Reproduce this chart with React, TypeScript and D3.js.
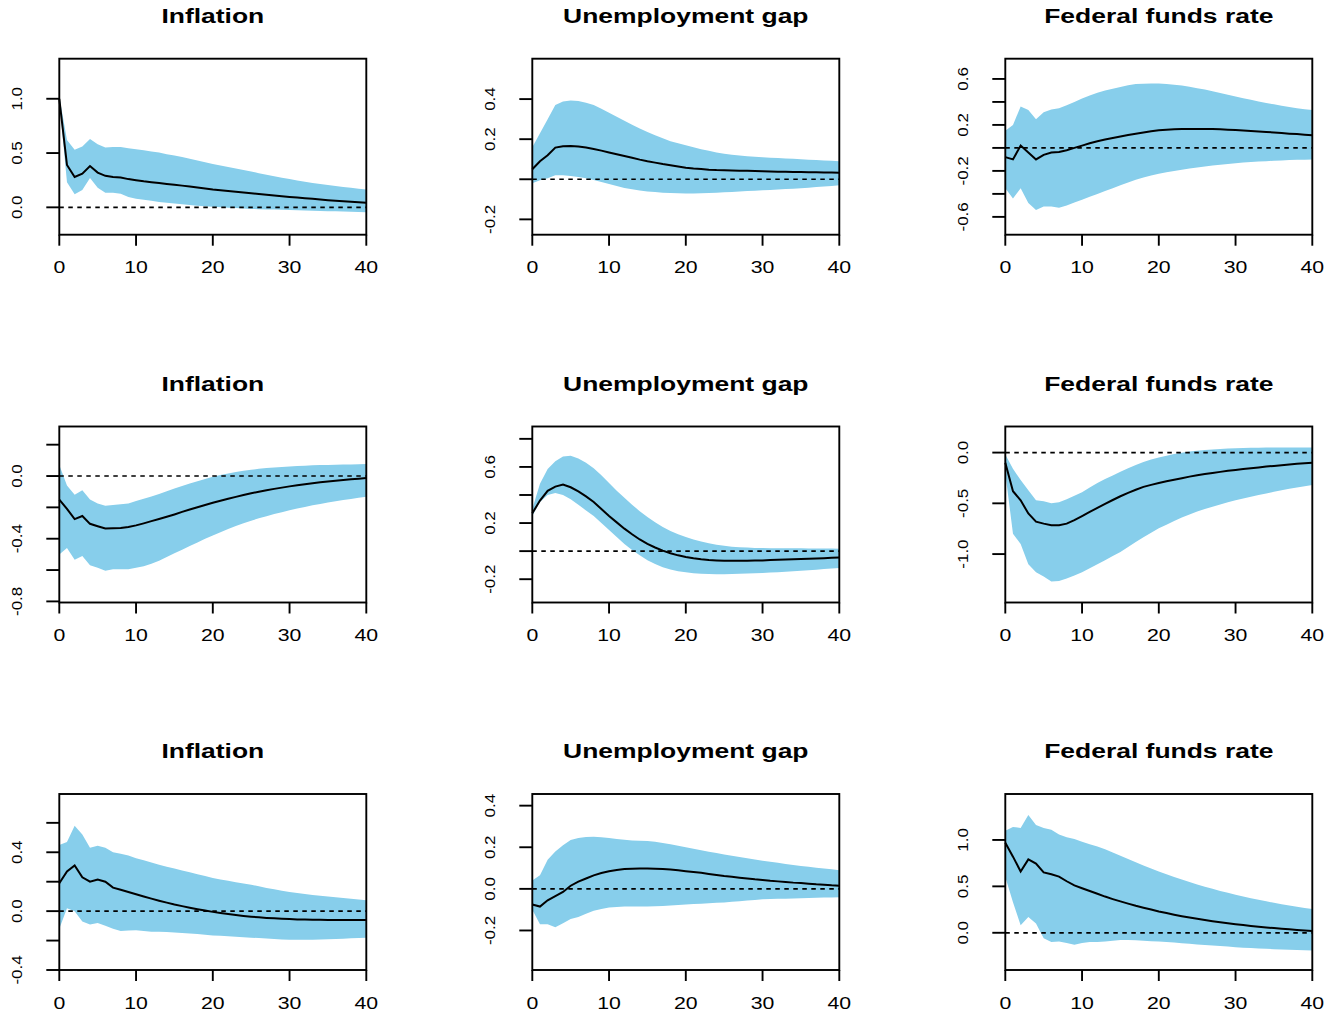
import React from 'react';
import * as d3 from 'd3';

const horizon = d3.range(0, 41);
const titles = ['Inflation', 'Unemployment gap', 'Federal funds rate'];
const xTicks = [0, 10, 20, 30, 40];

// shock 1
const inflMed1 = [1.00, 0.39, 0.28, 0.31, 0.38, 0.32, 0.29, 0.28, 0.275, 0.26, 0.25, 0.24, 0.232, 0.224, 0.216, 0.208, 0.200, 0.191, 0.182, 0.174, 0.165, 0.158, 0.151, 0.144, 0.137, 0.130, 0.123, 0.116, 0.109, 0.102, 0.096, 0.090, 0.084, 0.078, 0.072, 0.066, 0.061, 0.056, 0.051, 0.046, 0.042];
const inflUp1 = [1.02, 0.62, 0.53, 0.56, 0.63, 0.58, 0.55, 0.555, 0.555, 0.545, 0.535, 0.525, 0.515, 0.505, 0.49, 0.477, 0.463, 0.448, 0.432, 0.416, 0.40, 0.386, 0.372, 0.358, 0.344, 0.33, 0.315, 0.30, 0.286, 0.272, 0.26, 0.248, 0.236, 0.225, 0.215, 0.205, 0.196, 0.188, 0.18, 0.172, 0.165];
const inflLo1 = [0.98, 0.23, 0.12, 0.16, 0.27, 0.18, 0.135, 0.135, 0.125, 0.095, 0.08, 0.07, 0.06, 0.05, 0.042, 0.035, 0.028, 0.021, 0.015, 0.01, 0.005, 0.001, -0.003, -0.007, -0.011, -0.015, -0.017, -0.019, -0.021, -0.023, -0.025, -0.027, -0.029, -0.031, -0.033, -0.035, -0.037, -0.039, -0.041, -0.043, -0.045];

const unMed1 = [0.05, 0.09, 0.12, 0.158, 0.165, 0.166, 0.163, 0.158, 0.151, 0.143, 0.134, 0.125, 0.116, 0.107, 0.098, 0.090, 0.083, 0.076, 0.070, 0.064, 0.058, 0.054, 0.051, 0.048, 0.046, 0.045, 0.044, 0.043, 0.042, 0.041, 0.040, 0.039, 0.038, 0.037, 0.036, 0.036, 0.035, 0.035, 0.034, 0.034, 0.033];
const unUp1 = [0.16, 0.23, 0.30, 0.37, 0.388, 0.393, 0.39, 0.382, 0.37, 0.352, 0.332, 0.312, 0.292, 0.272, 0.253, 0.236, 0.22, 0.205, 0.19, 0.18, 0.17, 0.16, 0.15, 0.142, 0.134, 0.127, 0.122, 0.118, 0.115, 0.112, 0.11, 0.108, 0.106, 0.104, 0.102, 0.10, 0.098, 0.096, 0.094, 0.092, 0.09];
const unLo1 = [-0.02, -0.005, 0.005, 0.02, 0.02, 0.016, 0.011, 0.005, -0.003, -0.013, -0.024, -0.034, -0.043, -0.05, -0.056, -0.061, -0.064, -0.067, -0.069, -0.07, -0.071, -0.071, -0.07, -0.069, -0.067, -0.065, -0.063, -0.061, -0.059, -0.057, -0.055, -0.053, -0.051, -0.049, -0.047, -0.045, -0.042, -0.039, -0.036, -0.033, -0.03];

const ffrMed1 = [-0.08, -0.10, 0.02, -0.04, -0.10, -0.06, -0.04, -0.035, -0.02, 0.00, 0.02, 0.04, 0.058, 0.073, 0.087, 0.10, 0.112, 0.124, 0.134, 0.145, 0.153, 0.158, 0.162, 0.164, 0.165, 0.165, 0.165, 0.164, 0.162, 0.159, 0.156, 0.152, 0.148, 0.143, 0.139, 0.134, 0.129, 0.124, 0.12, 0.115, 0.11];
const ffrUp1 = [0.15, 0.20, 0.36, 0.33, 0.25, 0.31, 0.335, 0.345, 0.37, 0.40, 0.43, 0.455, 0.48, 0.50, 0.515, 0.53, 0.545, 0.555, 0.558, 0.56, 0.56, 0.557, 0.55, 0.542, 0.532, 0.52, 0.507, 0.492, 0.477, 0.462, 0.447, 0.432, 0.418, 0.404, 0.391, 0.379, 0.367, 0.356, 0.346, 0.337, 0.33];
const ffrLo1 = [-0.35, -0.44, -0.35, -0.48, -0.54, -0.51, -0.51, -0.52, -0.50, -0.475, -0.45, -0.425, -0.40, -0.375, -0.35, -0.325, -0.30, -0.278, -0.258, -0.24, -0.225, -0.212, -0.20, -0.19, -0.18, -0.171, -0.162, -0.154, -0.147, -0.14, -0.133, -0.128, -0.123, -0.119, -0.115, -0.112, -0.109, -0.106, -0.104, -0.102, -0.10];

// shock 2
const inflMed2 = [-0.15, -0.21, -0.275, -0.255, -0.305, -0.32, -0.335, -0.333, -0.332, -0.325, -0.315, -0.302, -0.288, -0.274, -0.26, -0.245, -0.229, -0.214, -0.199, -0.185, -0.171, -0.158, -0.145, -0.133, -0.121, -0.11, -0.1, -0.091, -0.082, -0.074, -0.066, -0.059, -0.052, -0.046, -0.04, -0.035, -0.03, -0.025, -0.021, -0.017, -0.013];
const inflUp2 = [0.07, -0.06, -0.12, -0.09, -0.15, -0.175, -0.19, -0.185, -0.18, -0.175, -0.16, -0.145, -0.13, -0.114, -0.097, -0.08, -0.064, -0.048, -0.033, -0.019, -0.005, 0.006, 0.016, 0.025, 0.033, 0.04, 0.046, 0.051, 0.055, 0.058, 0.061, 0.064, 0.066, 0.068, 0.07, 0.071, 0.072, 0.073, 0.074, 0.075, 0.076];
const inflLo2 = [-0.50, -0.46, -0.535, -0.51, -0.57, -0.585, -0.605, -0.595, -0.595, -0.595, -0.585, -0.575, -0.56, -0.54, -0.517, -0.492, -0.47, -0.447, -0.424, -0.401, -0.379, -0.358, -0.338, -0.319, -0.301, -0.285, -0.27, -0.256, -0.243, -0.231, -0.218, -0.207, -0.197, -0.187, -0.178, -0.169, -0.161, -0.153, -0.146, -0.139, -0.133];

const unMed2 = [0.27, 0.36, 0.43, 0.46, 0.475, 0.455, 0.425, 0.39, 0.35, 0.30, 0.25, 0.205, 0.16, 0.12, 0.083, 0.052, 0.026, 0.004, -0.015, -0.03, -0.042, -0.051, -0.058, -0.063, -0.066, -0.068, -0.069, -0.069, -0.068, -0.067, -0.066, -0.064, -0.062, -0.06, -0.058, -0.056, -0.054, -0.052, -0.05, -0.047, -0.045];
const unUp2 = [0.30, 0.48, 0.585, 0.64, 0.675, 0.68, 0.66, 0.63, 0.59, 0.54, 0.485, 0.43, 0.38, 0.33, 0.285, 0.243, 0.205, 0.172, 0.143, 0.12, 0.10, 0.083, 0.068, 0.056, 0.046, 0.038, 0.032, 0.028, 0.025, 0.023, 0.022, 0.021, 0.021, 0.02, 0.02, 0.02, 0.019, 0.019, 0.018, 0.018, 0.017];
const unLo2 = [0.25, 0.35, 0.40, 0.415, 0.40, 0.37, 0.33, 0.29, 0.25, 0.20, 0.15, 0.10, 0.05, 0.008, -0.03, -0.065, -0.092, -0.114, -0.131, -0.143, -0.151, -0.157, -0.161, -0.163, -0.164, -0.164, -0.163, -0.162, -0.16, -0.158, -0.156, -0.153, -0.15, -0.147, -0.144, -0.14, -0.136, -0.132, -0.128, -0.124, -0.12];

const ffrMed2 = [-0.10, -0.38, -0.47, -0.60, -0.68, -0.70, -0.715, -0.715, -0.70, -0.665, -0.625, -0.585, -0.545, -0.505, -0.467, -0.43, -0.397, -0.366, -0.338, -0.318, -0.30, -0.283, -0.267, -0.252, -0.237, -0.223, -0.212, -0.201, -0.19, -0.18, -0.171, -0.162, -0.154, -0.146, -0.138, -0.131, -0.124, -0.117, -0.111, -0.105, -0.10];
const ffrUp2 = [-0.02, -0.16, -0.27, -0.37, -0.47, -0.48, -0.50, -0.49, -0.46, -0.425, -0.39, -0.345, -0.30, -0.26, -0.225, -0.19, -0.155, -0.122, -0.092, -0.068, -0.048, -0.03, -0.015, -0.002, 0.01, 0.018, 0.025, 0.031, 0.036, 0.04, 0.043, 0.045, 0.047, 0.048, 0.049, 0.05, 0.05, 0.05, 0.05, 0.05, 0.05];
const ffrLo2 = [-0.20, -0.80, -0.90, -1.10, -1.18, -1.22, -1.27, -1.265, -1.24, -1.21, -1.18, -1.14, -1.10, -1.06, -1.02, -0.98, -0.93, -0.88, -0.835, -0.79, -0.745, -0.71, -0.675, -0.64, -0.61, -0.58, -0.556, -0.533, -0.511, -0.49, -0.47, -0.452, -0.434, -0.418, -0.402, -0.387, -0.372, -0.357, -0.344, -0.331, -0.32];

// shock 3
const inflMed3 = [0.19, 0.27, 0.31, 0.23, 0.20, 0.215, 0.20, 0.16, 0.145, 0.13, 0.115, 0.10, 0.085, 0.071, 0.058, 0.045, 0.034, 0.023, 0.013, 0.004, -0.005, -0.013, -0.02, -0.027, -0.033, -0.038, -0.042, -0.046, -0.049, -0.052, -0.054, -0.056, -0.057, -0.058, -0.059, -0.06, -0.06, -0.06, -0.06, -0.06, -0.06];
const inflUp3 = [0.45, 0.47, 0.58, 0.52, 0.43, 0.445, 0.43, 0.40, 0.39, 0.378, 0.36, 0.345, 0.33, 0.316, 0.302, 0.29, 0.277, 0.264, 0.251, 0.238, 0.225, 0.215, 0.206, 0.197, 0.188, 0.18, 0.169, 0.158, 0.148, 0.139, 0.13, 0.123, 0.116, 0.11, 0.104, 0.099, 0.094, 0.089, 0.084, 0.079, 0.074];
const inflLo3 = [-0.12, 0.02, 0.00, -0.07, -0.09, -0.08, -0.10, -0.12, -0.135, -0.132, -0.13, -0.135, -0.14, -0.14, -0.142, -0.145, -0.148, -0.152, -0.156, -0.16, -0.165, -0.168, -0.171, -0.174, -0.177, -0.18, -0.183, -0.186, -0.189, -0.192, -0.195, -0.195, -0.195, -0.194, -0.193, -0.191, -0.189, -0.187, -0.185, -0.183, -0.18];

const unMed3 = [-0.075, -0.085, -0.055, -0.035, -0.015, 0.015, 0.035, 0.05, 0.065, 0.076, 0.085, 0.091, 0.095, 0.097, 0.098, 0.098, 0.097, 0.095, 0.093, 0.089, 0.085, 0.081, 0.077, 0.072, 0.067, 0.062, 0.058, 0.054, 0.05, 0.046, 0.043, 0.039, 0.036, 0.033, 0.03, 0.028, 0.025, 0.022, 0.02, 0.017, 0.015];
const unUp3 = [0.04, 0.065, 0.14, 0.18, 0.21, 0.235, 0.245, 0.249, 0.25, 0.248, 0.245, 0.24, 0.236, 0.233, 0.231, 0.23, 0.226, 0.22, 0.214, 0.207, 0.20, 0.193, 0.186, 0.179, 0.172, 0.165, 0.159, 0.153, 0.147, 0.141, 0.135, 0.13, 0.125, 0.12, 0.115, 0.11, 0.106, 0.102, 0.098, 0.094, 0.09];
const unLo3 = [-0.10, -0.17, -0.17, -0.185, -0.165, -0.145, -0.135, -0.12, -0.105, -0.097, -0.09, -0.087, -0.085, -0.085, -0.085, -0.085, -0.083, -0.082, -0.08, -0.078, -0.075, -0.073, -0.071, -0.069, -0.067, -0.065, -0.062, -0.059, -0.056, -0.053, -0.05, -0.049, -0.048, -0.047, -0.046, -0.045, -0.044, -0.043, -0.042, -0.041, -0.04];

const ffrMed3 = [0.97, 0.82, 0.66, 0.79, 0.745, 0.65, 0.63, 0.605, 0.555, 0.51, 0.48, 0.45, 0.42, 0.39, 0.363, 0.338, 0.314, 0.291, 0.27, 0.25, 0.23, 0.212, 0.195, 0.179, 0.164, 0.15, 0.137, 0.125, 0.113, 0.102, 0.092, 0.083, 0.074, 0.066, 0.058, 0.051, 0.044, 0.037, 0.031, 0.025, 0.018];
const ffrUp3 = [1.10, 1.14, 1.13, 1.27, 1.16, 1.13, 1.11, 1.06, 1.03, 1.01, 0.98, 0.955, 0.93, 0.9, 0.865, 0.83, 0.795, 0.76, 0.725, 0.692, 0.66, 0.631, 0.602, 0.574, 0.547, 0.52, 0.496, 0.473, 0.451, 0.43, 0.41, 0.391, 0.373, 0.356, 0.339, 0.323, 0.308, 0.294, 0.28, 0.268, 0.256];
const ffrLo3 = [0.60, 0.33, 0.08, 0.17, 0.10, -0.06, -0.10, -0.095, -0.11, -0.13, -0.11, -0.10, -0.10, -0.095, -0.085, -0.078, -0.078, -0.08, -0.085, -0.09, -0.095, -0.1, -0.106, -0.112, -0.118, -0.125, -0.131, -0.137, -0.143, -0.149, -0.155, -0.16, -0.165, -0.169, -0.173, -0.177, -0.18, -0.183, -0.186, -0.189, -0.192];

// y axis setup per panel (row by row)
const panels = [
  { med: inflMed1, up: inflUp1, lo: inflLo1, yDomain: [-0.252, 1.369], yTicks: [0, 0.5, 1], yLabels: [0, 0.5, 1] },
  { med: unMed1, up: unUp1, lo: unLo1, yDomain: [-0.2765, 0.6015], yTicks: [-0.2, 0, 0.2, 0.4], yLabels: [-0.2, 0.2, 0.4] },
  { med: ffrMed1, up: ffrUp1, lo: ffrLo1, yDomain: [-0.755, 0.776], yTicks: [-0.6, -0.4, -0.2, 0, 0.2, 0.4, 0.6], yLabels: [-0.6, -0.2, 0.2, 0.6] },
  { med: inflMed2, up: inflUp2, lo: inflLo2, yDomain: [-0.807, 0.316], yTicks: [-0.8, -0.6, -0.4, -0.2, 0, 0.2], yLabels: [-0.8, -0.4, 0] },
  { med: unMed2, up: unUp2, lo: unLo2, yDomain: [-0.366, 0.888], yTicks: [-0.2, 0, 0.2, 0.4, 0.6, 0.8], yLabels: [-0.2, 0.2, 0.6] },
  { med: ffrMed2, up: ffrUp2, lo: ffrLo2, yDomain: [-1.477, 0.257], yTicks: [-1, -0.5, 0], yLabels: [-1, -0.5, 0] },
  { med: inflMed3, up: inflUp3, lo: inflLo3, yDomain: [-0.40, 0.796], yTicks: [-0.4, -0.2, 0, 0.2, 0.4, 0.6], yLabels: [-0.4, 0, 0.4] },
  { med: unMed3, up: unUp3, lo: unLo3, yDomain: [-0.39, 0.456], yTicks: [-0.2, 0, 0.2, 0.4], yLabels: [-0.2, 0, 0.2, 0.4] },
  { med: ffrMed3, up: ffrUp3, lo: ffrLo3, yDomain: [-0.401, 1.495], yTicks: [0, 0.5, 1], yLabels: [0, 0.5, 1] },
];

const W = 1339;
const H = 1013;
const colLeft = [59.3, 532.3, 1005.3];
const rowTop = [58.7, 426.5, 794];
const boxW = 307;
const boxH = 176;
const font = '"Liberation Sans", Arial, Helvetica, sans-serif';

function Panel({ p, col, row }) {
  const x0 = colLeft[col];
  const y0 = rowTop[row];
  const x = d3.scaleLinear().domain([0, 40]).range([x0, x0 + boxW]);
  const y = d3.scaleLinear().domain(p.yDomain).range([y0 + boxH, y0]);

  const band = d3.area<number>()
    .x(h => x(h))
    .y0(h => y(p.lo[h]))
    .y1(h => y(p.up[h]));
  const line = d3.line<number>()
    .x(h => x(h))
    .y(h => y(p.med[h]));

  const bottom = y0 + boxH;

  return (
    <g>
      <text
        transform={`translate(${x0 + boxW / 2},${y0 - 36}) scale(1.26,1)`}
        textAnchor="middle"
        fontFamily={font}
        fontWeight="bold"
        fontSize={21}
      >
        {titles[col]}
      </text>
      <path d={band(horizon) ?? ''} fill="skyblue" stroke="none" />
      <line x1={x(0)} x2={x(40)} y1={y(0)} y2={y(0)} stroke="#000" strokeWidth={1.7} strokeDasharray="4.5 4.5" />
      <path d={line(horizon) ?? ''} fill="none" stroke="#000" strokeWidth={2} />
      <rect x={x0} y={y0} width={boxW} height={boxH} fill="none" stroke="#000" strokeWidth={1.9} />

      {xTicks.map(t => (
        <g key={'x' + t}>
          <line x1={x(t)} x2={x(t)} y1={bottom} y2={bottom + 11} stroke="#000" strokeWidth={1.9} />
          <text
            transform={`translate(${x(t)},${bottom + 38.5}) scale(1.33,1)`}
            textAnchor="middle"
            fontFamily={font}
            fontSize={16}
          >
            {t}
          </text>
        </g>
      ))}

      {p.yTicks.map(t => (
        <line key={'yt' + t} x1={x0 - 13} x2={x0} y1={y(t)} y2={y(t)} stroke="#000" strokeWidth={1.9} />
      ))}
      {p.yLabels.map(t => (
        <text
          key={'yl' + t}
          transform={`translate(${x0 - 37.5},${y(t)}) rotate(-90) scale(1.17,1)`}
          textAnchor="middle"
          fontFamily={font}
          fontSize={14.5}
        >
          {t.toFixed(1)}
        </text>
      ))}
    </g>
  );
}

export default function App() {
  return (
    <svg
      width={W}
      height={H}
      style={{ position: 'absolute', left: 0, top: 0, display: 'block', background: '#fff' }}
    >
      {panels.map((p, i) => (
        <Panel key={i} p={p} col={i % 3} row={Math.floor(i / 3)} />
      ))}
    </svg>
  );
}
